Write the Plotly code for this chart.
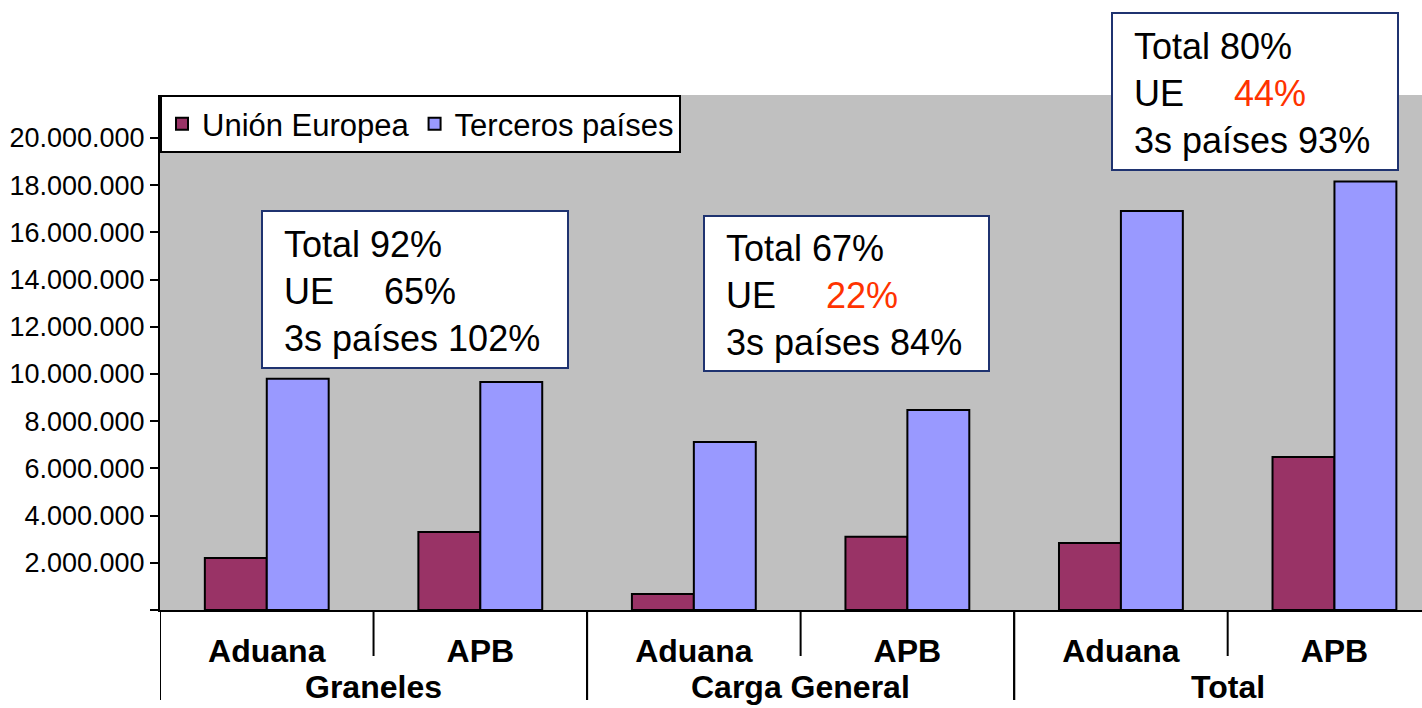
import plotly.graph_objects as go

groups = ["Graneles", "Graneles", "Carga General", "Carga General", "Total", "Total"]
sources = ["Aduana", "APB", "Aduana", "APB", "Aduana", "APB"]
ue = [2200000, 3300000, 680000, 3100000, 2840000, 6480000]
terceros = [9800000, 9660000, 7120000, 8470000, 16900000, 18150000]
ytick_vals = [0, 2000000, 4000000, 6000000, 8000000, 10000000, 12000000, 14000000,
              16000000, 18000000, 20000000]
ytick_text = ["" if v == 0 else f"{v:,}".replace(",", ".") for v in ytick_vals]

box_texts = [
    ["Total 92%", "UE&nbsp;&nbsp;&nbsp;&nbsp; 65%", "3s países 102%"],
    ["Total 67%", "UE&nbsp;&nbsp;&nbsp;&nbsp; <span style='color:#FF3300'>22%</span>", "3s países 84%"],
    ["Total 80%", "UE&nbsp;&nbsp;&nbsp;&nbsp; <span style='color:#FF3300'>44%</span>", "3s países 93%"],
]

FONT = "Liberation Sans"
W, H = 1422, 708
ML, MR, MT, MB = 160, 0, 95, 98
XR = [-0.5, 5.41]
YR = [0, 21820000]

idx = list(range(len(sources)))

fig = go.Figure()
fig.add_trace(go.Bar(x=idx, y=ue, name="Unión Europea",
                     marker=dict(color="#993366", line=dict(color="black", width=2))))
fig.add_trace(go.Bar(x=idx, y=terceros, name="Terceros países",
                     marker=dict(color="#9999FF", line=dict(color="black", width=2))))

pw = W - ML - MR
ph = H - MT - MB

def px_to_paper(xp, yp):
    return (xp - ML) / pw, (H - MB - yp) / ph

# annotation boxes (left, top, width, height in px)
boxes = [(262, 211, 306, 157), (704, 216, 285, 155), (1112, 13, 286, 157)]
for (bx, by, bwid, bht), lines in zip(boxes, box_texts):
    x0, y1 = px_to_paper(bx, by)
    x1, y0 = px_to_paper(bx + bwid, by + bht)
    fig.add_shape(type="rect", xref="paper", yref="paper", x0=x0, x1=x1, y0=y0, y1=y1,
                  fillcolor="white", line=dict(color="#1F3370", width=2), layer="above")
    tx, ty = px_to_paper(bx + 20, by + bht / 2 + 2)
    fig.add_annotation(
        xref="paper", yref="paper", x=tx, y=ty, xanchor="left", yanchor="middle",
        text="<br>".join(lines), showarrow=False, align="left",
        font=dict(family=FONT, size=36, color="black"),
    )

# group labels and dividers below the axis
group_names = []
for g in groups:
    if g not in group_names:
        group_names.append(g)
for g in group_names:
    members = [i for i, gg in enumerate(groups) if gg == g]
    center = sum(members) / len(members)
    fig.add_annotation(xref="x", yref="paper", x=center, y=-97 / ph,
                       xanchor="center", yanchor="bottom", showarrow=False,
                       text=f"<b>{g}</b>",
                       font=dict(family=FONT, size=32, color="black"))
    # long divider at group start and end
    for b in (members[0] - 0.5, members[-1] + 0.5):
        fig.add_shape(type="line", xref="x", yref="paper", x0=b, x1=b,
                      y0=-2 / ph, y1=-90 / ph, line=dict(color="black", width=2))
    # short dividers between members
    for m in members[:-1]:
        fig.add_shape(type="line", xref="x", yref="paper", x0=m + 0.5, x1=m + 0.5,
                      y0=-2 / ph, y1=-46 / ph, line=dict(color="black", width=2))

fig.update_layout(
    width=W, height=H,
    margin=dict(l=ML, r=MR, t=MT, b=MB, pad=0),
    paper_bgcolor="white", plot_bgcolor="#C0C0C0",
    barmode="group", bargap=0.42, bargroupgap=0,
    font=dict(family=FONT, color="black"),
    legend=dict(orientation="h", x=0, y=1, xanchor="left", yanchor="top",
                bgcolor="white", bordercolor="black", borderwidth=2,
                font=dict(family=FONT, size=31, color="black"),
                traceorder="normal"),
    showlegend=True,
)
fig.update_xaxes(
    range=XR, showgrid=False, zeroline=False,
    showline=True, linecolor="black", linewidth=2, ticks="",
    tickvals=idx, ticktext=sources, ticklabelstandoff=12,
    tickfont=dict(family=FONT, size=32, color="black", weight="bold"),
)
fig.update_yaxes(
    range=YR, showgrid=False, zeroline=False,
    showline=True, linecolor="black", linewidth=2,
    ticks="outside", ticklen=8, tickwidth=2, tickcolor="black",
    tickvals=ytick_vals, ticktext=ytick_text,
    tickfont=dict(family=FONT, size=27, color="black"),
)

fig.write_html("out.html", post_script="document.body.style.margin='0';",
               config={"displayModeBar": False})
